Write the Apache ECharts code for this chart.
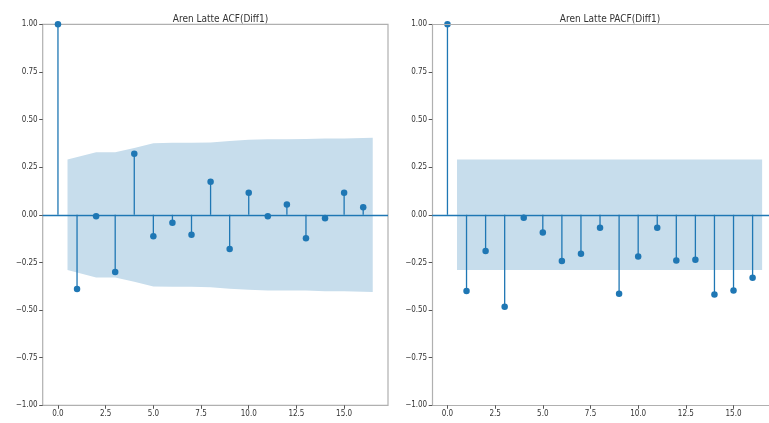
<!DOCTYPE html>
<html>
<head>
<meta charset="utf-8">
<script src="https://cdn.jsdelivr.net/npm/echarts@6/dist/echarts.min.js"></script>
<style>html,body{margin:0;padding:0;background:#fff;}#c{width:769px;height:423px;}</style>
</head>
<body>
<div id="c"></div>
<script>
// ---- data ----
const lags = [0,1,2,3,4,5,6,7,8,9,10,11,12,13,14,15,16];
const acfValues = [1.0,-0.389,-0.007,-0.30,0.32,-0.112,-0.042,-0.105,0.173,-0.179,0.116,-0.007,0.054,-0.123,-0.018,0.116,0.040];
const pacfValues = [1.0,-0.40,-0.19,-0.483,-0.016,-0.093,-0.243,-0.205,-0.068,-0.415,-0.219,-0.068,-0.24,-0.236,-0.419,-0.398,-0.331];
// confidence band x positions (first/last shifted by half a lag) and half-widths
const bandX = [0.5,2,3,4,5,6,7,8,9,10,11,12,13,14,15,16.5];
const acfBand = [0.29,0.329,0.329,0.351,0.376,0.378,0.378,0.380,0.388,0.394,0.397,0.397,0.398,0.401,0.401,0.405];
const pacfBand = [0.29,0.29,0.29,0.29,0.29,0.29,0.29,0.29,0.29,0.29,0.29,0.29,0.29,0.29,0.29,0.29];
const xTicks = [0,2.5,5,7.5,10,12.5,15];
const titles = ['Aren Latte ACF(Diff1)','Aren Latte PACF(Diff1)'];

const BLUE = '#1f77b4';
const FILL = 'rgb(199,221,236)';
const FRAME = '#b0b0b0';
const FONT = '"DejaVu Sans Condensed","DejaVu Sans",sans-serif';
const grids = [
  {left: 42.7, top: 24.3, width: 345.3, height: 381, show: true},
  {left: 432.2, top: 24.3, width: 336.8, height: 381, show: false}
];
const xMax = [17.3, 16.86];

function fmtMinus(s){ return s.replace('-', '\u2212'); }

const option = {
  animation: false,
  backgroundColor: '#fff',
  title: titles.map((t,i)=>({
    text: t,
    left: i === 0 ? 215.5 : 605,
    top: 9,
    textAlign: 'center',
    textStyle: {fontFamily: FONT, fontSize: 10, fontWeight: 'normal', color: '#333'}
  })),
  grid: grids.map(g=>Object.assign({borderColor: FRAME, borderWidth: 1.2, backgroundColor: 'transparent'}, g)),
  xAxis: grids.map((g,i)=>({
    type: 'value', gridIndex: i, min: -0.8, max: xMax[i], position: 'bottom',
    splitLine: {show: false},
    axisLine: {show: i === 1, onZero: false, lineStyle: {color: FRAME, width: 1.2}},
    axisTick: {show: true, customValues: xTicks, length: 3.5, inside: false, lineStyle: {color: '#555', width: 1}},
    axisLabel: {customValues: xTicks, margin: 5, fontFamily: FONT, fontSize: 8, color: '#333',
      formatter: v => v.toFixed(1)}
  })),
  yAxis: grids.map((g,i)=>({
    type: 'value', gridIndex: i, min: -1, max: 1, interval: 0.25, position: 'left',
    splitLine: {show: false},
    axisLine: {show: i === 1, onZero: false, lineStyle: {color: FRAME, width: 1.2}},
    axisTick: {show: true, length: 3.5, lineStyle: {color: '#555', width: 1}},
    axisLabel: {margin: 5, fontFamily: FONT, fontSize: 8, color: '#333',
      formatter: v => fmtMinus(v.toFixed(2))}
  })),
  series: []
};

[[acfValues, acfBand],[pacfValues, pacfBand]].forEach(([vals, band], i) => {
  const upper = {
    type: 'line', xAxisIndex: i, yAxisIndex: i, z: 1,
    data: bandX.map((x,k)=>[x, band[k]]), symbol: 'none',
    lineStyle: {width: 0}, areaStyle: {color: FILL, opacity: 1, origin: 0}
  };
  if (i === 1) {
    // top frame edge of the right panel (its right edge is cut off by the image)
    upper.markLine = {silent: true, symbol: 'none', label: {show: false},
      lineStyle: {color: FRAME, width: 1.2, type: 'solid'}, data: [{yAxis: 1}]};
  }
  option.series.push(upper);
  option.series.push({
    type: 'line', xAxisIndex: i, yAxisIndex: i, z: 1,
    data: bandX.map((x,k)=>[x, -band[k]]), symbol: 'none',
    lineStyle: {width: 0}, areaStyle: {color: FILL, opacity: 1, origin: 0},
    markLine: {silent: true, symbol: 'none', label: {show: false},
      lineStyle: {color: BLUE, width: 1.3, type: 'solid'},
      data: [{yAxis: 0}]}
  });
  option.series.push({
    type: 'custom', xAxisIndex: i, yAxisIndex: i, z: 3,
    data: lags.map((l,k)=>[l, vals[k]]),
    renderItem: function(params, api){
      const p0 = api.coord([api.value(0), 0]);
      const p1 = api.coord([api.value(0), api.value(1)]);
      return {type: 'line', shape: {x1: p0[0], y1: p0[1], x2: p1[0], y2: p1[1]},
        style: {stroke: BLUE, lineWidth: 1.3}};
    }
  });
  option.series.push({
    type: 'scatter', xAxisIndex: i, yAxisIndex: i, z: 4,
    data: lags.map((l,k)=>[l, vals[k]]),
    symbol: 'circle', symbolSize: 6.5,
    itemStyle: {color: BLUE, opacity: 1}
  });
});

const chart = echarts.init(document.getElementById('c'), null, {renderer: 'canvas'});
chart.setOption(option);
</script>
</body>
</html>
